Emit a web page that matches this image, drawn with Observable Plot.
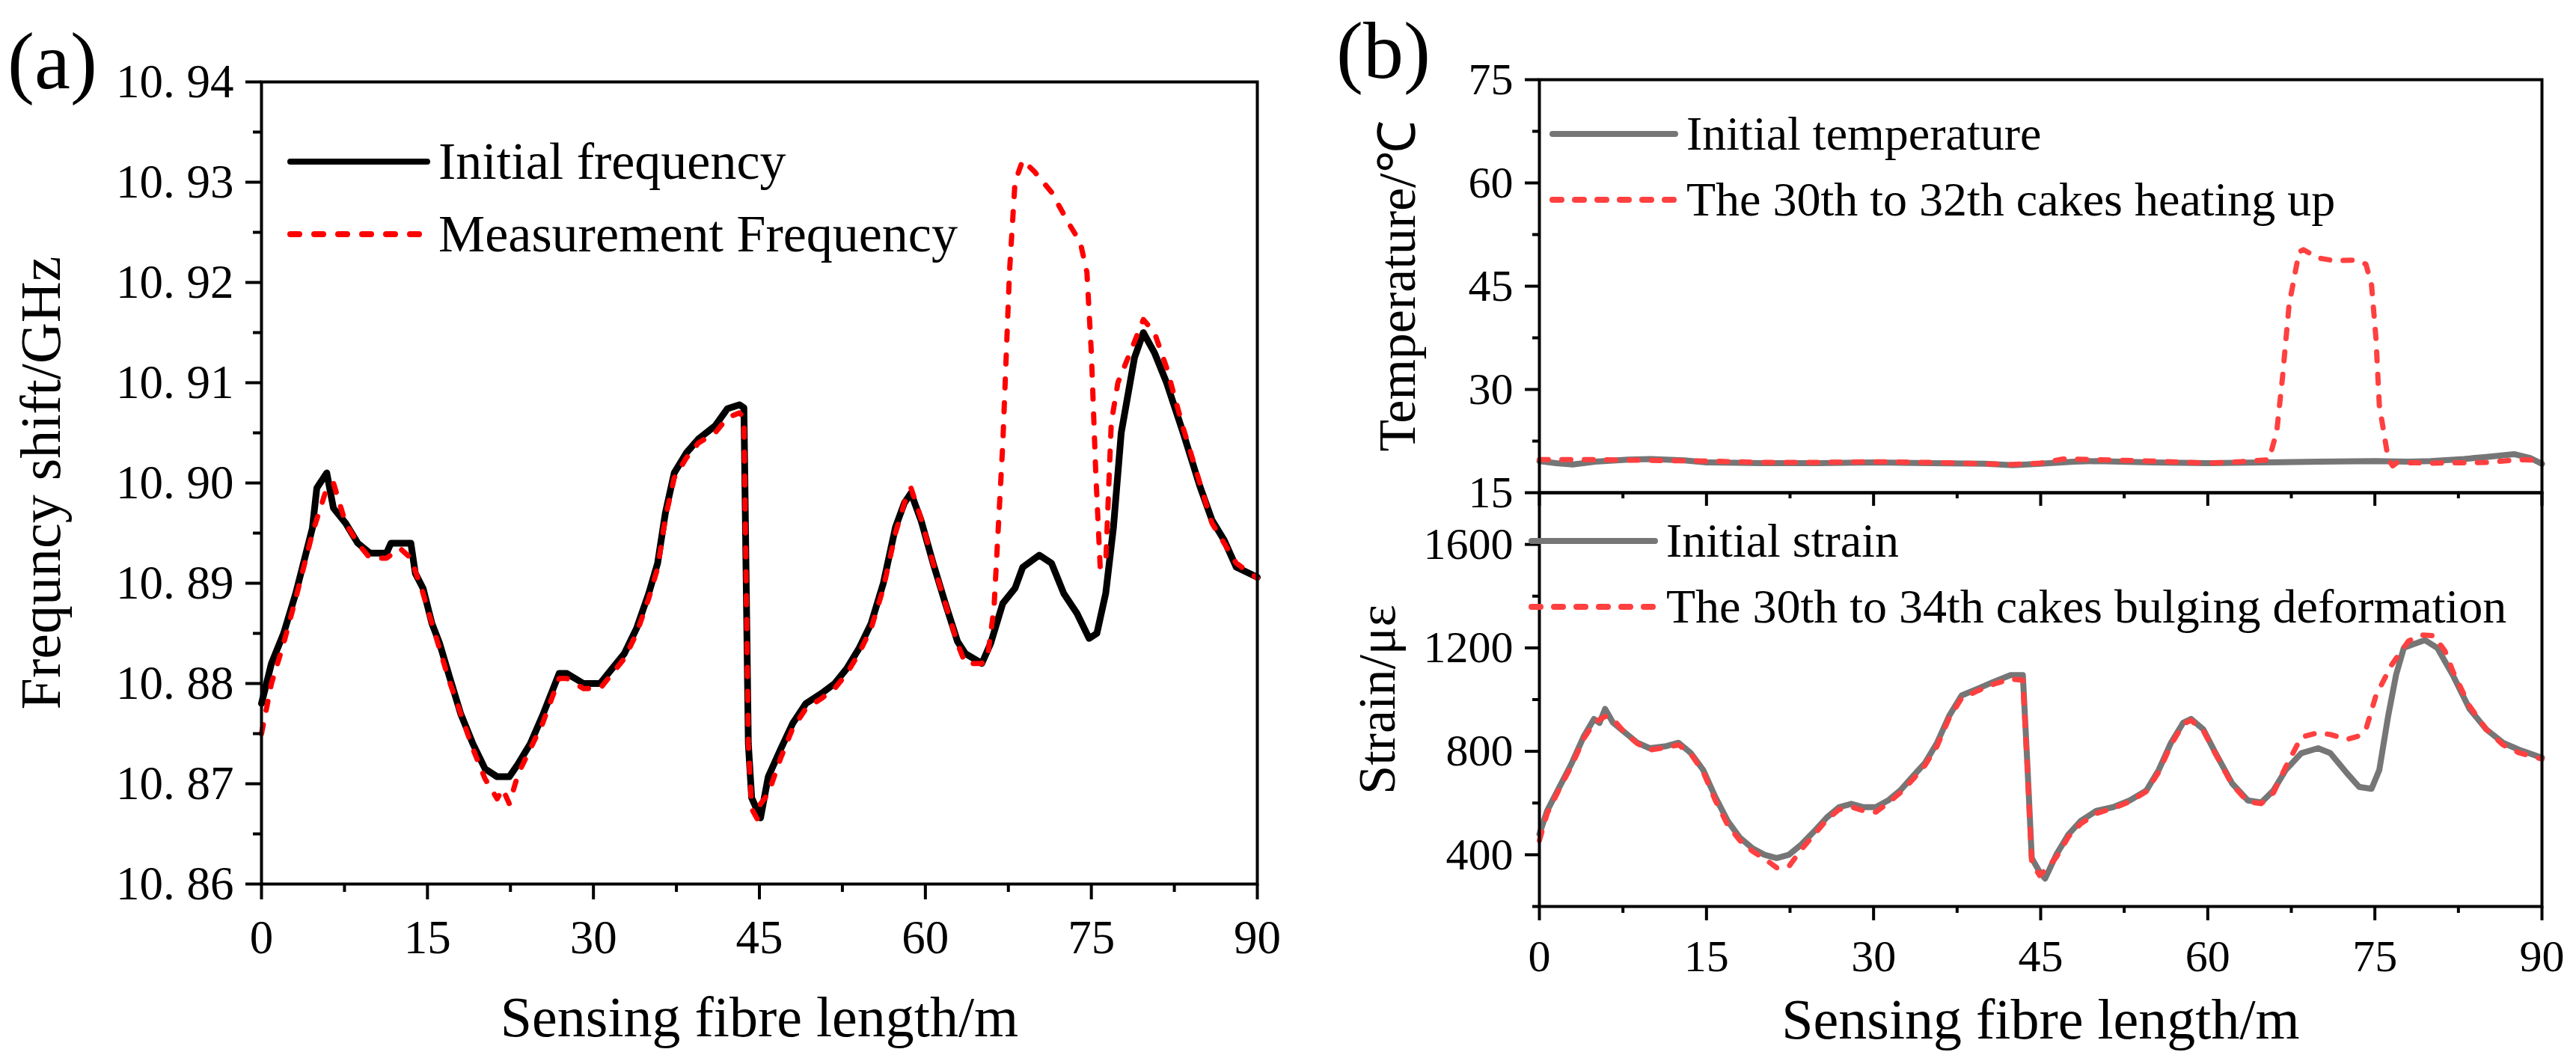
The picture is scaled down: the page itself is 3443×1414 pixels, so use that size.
<!DOCTYPE html>
<html>
<head>
<meta charset="utf-8">
<script src="https://cdn.jsdelivr.net/npm/d3@7"></script>
<script src="https://cdn.jsdelivr.net/npm/@observablehq/plot@0.6"></script>
<style>
  body { margin: 0; background: white; }
  #fig { position: relative; width: 3443px; height: 1414px; background: white; }
  #fig svg { position: absolute; }
</style>
</head>
<body>
<div id="fig"></div>
<script>
// (a) frequency shift, GHz, against sensing fibre length (m)
const freqInitial = [
  [0,10.878],[0.9,10.882],[2,10.885],[3.1,10.889],[4.6,10.8955],[5,10.8995],[5.9,10.901],
  [6.5,10.8975],[7.6,10.896],[8.7,10.894],[9.8,10.893],[11.3,10.893],[11.7,10.894],[13.5,10.894],
  [13.9,10.891],[14.6,10.8895],[15.4,10.886],[16.1,10.884],[16.9,10.881],[18,10.877],[19.1,10.874],
  [20.2,10.8715],[21.3,10.8707],[22.4,10.8707],[23.2,10.872],[24.3,10.874],[25.4,10.8768],
  [26.9,10.881],[27.6,10.881],[29.1,10.880],[30.6,10.880],[31.7,10.8815],[32.8,10.883],
  [33.9,10.8855],[35,10.889],[35.8,10.892],[36.5,10.897],[37.3,10.901],[38.4,10.903],
  [39.5,10.9044],[41,10.9057],[42.1,10.9074],[43.2,10.9078],[43.6,10.9075],[44,10.874],
  [44.3,10.8686],[45.1,10.8666],[45.8,10.8707],[46.9,10.8734],[48,10.876],[49.2,10.878],
  [50.6,10.879],[51.8,10.880],[52.9,10.8815],[54,10.8835],[55.1,10.886],[56.2,10.890],
  [57.3,10.8956],[58.1,10.898],[58.7,10.899],[59.6,10.8963],[60.7,10.892],[61.8,10.888],
  [62.9,10.8842],[63.6,10.883],[65.1,10.882],[65.9,10.884],[67,10.888],[68.1,10.8895],
  [68.8,10.8916],[70.3,10.8928],[71.4,10.892],[72.5,10.889],[73.7,10.887],[74.8,10.8845],
  [75.5,10.885],[76.3,10.889],[77,10.8956],[77.7,10.905],[78.9,10.9125],[79.7,10.915],
  [80.7,10.913],[81.8,10.910],[83.3,10.905],[84.8,10.8997],[85.9,10.8963],[87,10.8943],
  [88.1,10.8916],[90,10.8906]
];
const freqMeasured = [
  [0,10.875],[0.9,10.880],[2,10.884],[3.1,10.8885],[4.6,10.895],[5.9,10.8995],[6.5,10.900],
  [7.6,10.896],[8.7,10.894],[9.8,10.8925],[11.3,10.8925],[12.5,10.8935],[13.5,10.8925],
  [14.6,10.889],[15.4,10.886],[16.9,10.8805],[18,10.877],[19.1,10.8735],[20.2,10.8705],
  [21.3,10.8685],[21.8,10.8695],[22.4,10.868],[23.2,10.871],[24.3,10.8735],[25.4,10.876],
  [26.9,10.8805],[27.6,10.8805],[29.1,10.8795],[30.6,10.8795],[31.7,10.881],[32.8,10.8825],
  [33.9,10.885],[35,10.8885],[35.8,10.8915],[36.5,10.8965],[37.3,10.9005],[38.4,10.9025],
  [39.5,10.904],[41,10.905],[42.1,10.9065],[43.2,10.907],[43.6,10.9065],[44,10.874],
  [44.3,10.8675],[44.8,10.8665],[45.1,10.868],[45.8,10.869],[46.9,10.8725],[48,10.8755],
  [49.2,10.8775],[50.6,10.8785],[51.8,10.8795],[52.9,10.881],[54,10.883],[55.1,10.8855],
  [56.2,10.8895],[57.3,10.895],[58.1,10.898],[58.7,10.8995],[59.6,10.8965],[60.7,10.892],
  [61.8,10.888],[62.9,10.884],[63.6,10.882],[65.1,10.882],[65.6,10.8825],[66.2,10.8875],
  [67,10.904],[67.6,10.921],[68.1,10.930],[68.8,10.9322],[69.9,10.931],[71.4,10.929],
  [72.9,10.926],[74,10.924],[74.6,10.921],[75,10.913],[75.4,10.901],[75.8,10.8916],
  [76.3,10.892],[76.8,10.906],[77.4,10.910],[78.5,10.913],[79.7,10.9163],[80.7,10.915],
  [81.8,10.9115],[83.3,10.9055],[84.8,10.900],[85.9,10.896],[87,10.894],[88.1,10.892],[90,10.8905]
];

// (b) top: temperature, degrees C
const tempInitial = [
  [0,19.6],[1.5,19.3],[3,19.1],[5,19.5],[8,19.8],[10,19.9],[13,19.7],[15,19.4],[20,19.3],
  [25,19.3],[30,19.4],[35,19.3],[40,19.2],[42.5,19.0],[45,19.2],[48,19.5],[50,19.6],[55,19.4],
  [60,19.3],[65,19.4],[70,19.5],[75,19.6],[78,19.5],[80,19.6],[83,19.9],[85,20.2],[87.5,20.6],
  [89,20.0],[90,19.2]
];
const tempHeated = [
  [0,19.8],[5,19.8],[10,19.7],[15,19.6],[20,19.4],[25,19.4],[30,19.5],[35,19.4],[40,19.2],
  [42.5,19.1],[45,19.3],[47,19.9],[50,19.8],[55,19.6],[60,19.3],[63,19.5],[65.5,19.8],[66.2,24],
  [66.7,31.6],[67.3,42.3],[68.2,50.0],[68.6,50.3],[69.9,49.1],[71.4,48.7],[73.2,48.8],[74.2,48.2],
  [74.7,45.2],[75.1,37.4],[75.4,27.7],[76.2,19.9],[76.6,18.9],[77,19.4],[80,19.3],[85,19.4],
  [88,19.8],[90,19.7]
];

// (b) bottom: strain, microstrain
const strainInitial = [
  [0,480],[0.7,570],[1.8,662],[2.9,754],[4,859],[4.9,925],[5.4,910],[5.9,964],[6.6,911],
  [7.7,872],[8.8,833],[9.9,812],[11.4,820],[12.5,833],[13.6,793],[14.7,728],[15.8,623],
  [16.9,531],[18,466],[19.1,426],[20.2,400],[21.3,387],[22.4,400],[23.5,439],[24.7,492],
  [25.8,544],[26.9,584],[28,597],[29.1,584],[30.2,584],[31.3,610],[32.4,649],[33.5,702],
  [34.6,754],[35.7,833],[36.8,938],[37.9,1016],[39.4,1043],[40.8,1069],[42.3,1095],[43.4,1095],
  [43.8,754],[44.2,387],[44.9,334],[45.4,308],[46.4,400],[47.5,479],[48.6,531],[50,570],
  [51.5,584],[53,610],[54.5,649],[55.6,728],[56.7,833],[57.8,911],[58.5,925],[59.6,885],
  [60.7,793],[62.2,675],[63.6,610],[64.8,602],[65.9,649],[67,728],[68.4,793],[69.9,812],
  [71,793],[72.5,715],[73.6,662],[74.7,655],[75.4,728],[76.2,938],[76.9,1095],[77.6,1200],
  [78.5,1215],[79.5,1230],[80.6,1200],[82,1095],[83.5,964],[85,885],[86.5,833],[87.9,807],[90,775]
];
const strainBulged = [
  [0,455],[0.7,560],[1.8,655],[2.9,745],[4,850],[4.9,910],[5.9,935],[6.6,925],[7.7,870],
  [8.8,830],[9.9,805],[11.4,815],[12.5,825],[13.6,790],[14.7,720],[15.8,610],[16.9,515],
  [18,455],[19.1,415],[20.2,385],[21.3,350],[22.4,355],[23.5,420],[24.7,480],[25.8,535],
  [26.9,575],[28,585],[29.1,570],[30.2,565],[31.3,600],[32.4,640],[33.5,690],[34.6,745],
  [35.7,820],[36.8,930],[37.9,1005],[39.4,1035],[40.8,1060],[42.3,1080],[43.4,1075],[43.8,740],
  [44.2,370],[44.9,320],[45.4,340],[46.4,390],[47.5,470],[48.6,520],[50,560],[51.5,580],
  [53,605],[54.5,645],[55.6,720],[56.7,825],[57.8,905],[58.5,920],[59.6,880],[60.7,790],
  [62.2,670],[63.6,605],[64.8,598],[65.9,640],[67,740],[68.4,855],[69.9,872],[71,865],
  [72.5,846],[73.6,860],[74.2,885],[75.1,1016],[76.5,1134],[78,1226],[79.2,1250],[80.3,1247],
  [81.3,1187],[82,1110],[83.5,975],[85,885],[86.5,825],[87.9,795],[90,770]
];

// ticks
const xMajor = [0, 15, 30, 45, 60, 75, 90];
const xMinor = [7.5, 22.5, 37.5, 52.5, 67.5, 82.5];
const freqMajor = [10.86, 10.87, 10.88, 10.89, 10.90, 10.91, 10.92, 10.93, 10.94];
const freqMinor = [10.865, 10.875, 10.885, 10.895, 10.905, 10.915, 10.925, 10.935];
const tempMajor = [15, 30, 45, 60, 75];
const tempMinor = [22.5, 37.5, 52.5, 67.5];
const strainMajor = [400, 800, 1200, 1600];
const strainMinor = [200, 600, 1000, 1400];

const FONT = '"Liberation Serif", "Times New Roman", serif';
const RED_A = "#ff0000";
const RED_B = "#ff4040";
const GREY = "#767676";

const toRows = arr => arr.map(([x, y]) => ({x, y}));
const blank = () => "";
const plain = d => String(d);

const fig = document.getElementById("fig");

function place(svg, left, top) {
  svg.style.left = left + "px";
  svg.style.top = top + "px";
  fig.appendChild(svg);
}

// ---- panel (a)
const plotA = Plot.plot({
  width: 1720,
  height: 1414,
  marginLeft: 349,
  marginRight: 40,
  marginTop: 109,
  marginBottom: 233,
  style: {background: "transparent", fontFamily: FONT, fontSize: "63px", color: "black", overflow: "visible"},
  x: {domain: [0, 90]},
  y: {domain: [10.86, 10.94]},
  marks: [
    Plot.line(toRows(freqInitial), {x: "x", y: "y", stroke: "black", strokeWidth: 9, strokeLinejoin: "round"}),
    Plot.line(toRows(freqMeasured), {x: "x", y: "y", stroke: RED_A, strokeWidth: 7,
      strokeDasharray: "12,20", strokeLinecap: "round"}),
    Plot.frame({strokeWidth: 4}),
    Plot.axisX(xMajor, {tickSize: 21, tickPadding: 27, strokeWidth: 4, label: null, tickFormat: plain}),
    Plot.axisX(xMinor, {tickSize: 11, tickFormat: blank, strokeWidth: 4, label: null}),
    Plot.axisY(freqMajor, {tickSize: 21, tickPadding: 16, strokeWidth: 4, label: null,
      tickFormat: d => d.toFixed(2).replace(".", ". ")}),
    Plot.axisY(freqMinor, {tickSize: 11, tickFormat: blank, strokeWidth: 4, label: null}),
    Plot.text(["Sensing fibre length/m"], {frameAnchor: "bottom", dy: 179, lineAnchor: "middle",
      textAnchor: "middle", fontSize: 76}),
    Plot.text(["Frequncy shift/GHz"], {frameAnchor: "left", dx: -294, rotate: -90, lineAnchor: "middle",
      textAnchor: "middle", fontSize: 76})
  ]
});
place(plotA, 0, 0);

// ---- panel (b), temperature
const plotT = Plot.plot({
  width: 1723,
  height: 700,
  marginLeft: 337,
  marginRight: 46,
  marginTop: 106,
  marginBottom: 42,
  style: {background: "transparent", fontFamily: FONT, fontSize: "60px", color: "black", overflow: "visible"},
  x: {domain: [0, 90]},
  y: {domain: [15, 75]},
  marks: [
    Plot.line(toRows(tempInitial), {x: "x", y: "y", stroke: GREY, strokeWidth: 8, strokeLinejoin: "round"}),
    Plot.line(toRows(tempHeated), {x: "x", y: "y", stroke: RED_B, strokeWidth: 7,
      strokeDasharray: "12,18", strokeLinecap: "round"}),
    Plot.frame({strokeWidth: 4}),
    Plot.axisX(xMajor, {tickSize: 18, tickFormat: blank, strokeWidth: 4, label: null}),
    Plot.axisX(xMinor, {tickSize: 8, tickFormat: blank, strokeWidth: 4, label: null}),
    Plot.axisY(tempMajor, {tickSize: 19, tickPadding: 16, strokeWidth: 4, label: null, tickFormat: plain}),
    Plot.axisY(tempMinor, {tickSize: 9, tickFormat: blank, strokeWidth: 4, label: null}),
    Plot.text(["Temperature/℃"], {frameAnchor: "left", dx: -189, rotate: -90, lineAnchor: "middle",
      textAnchor: "middle", fontSize: 70})
  ]
});
place(plotT, 1720, 0);

// ---- panel (b), strain
const plotS = Plot.plot({
  width: 1723,
  height: 774,
  marginLeft: 337,
  marginRight: 46,
  marginTop: 18,
  marginBottom: 203,
  style: {background: "transparent", fontFamily: FONT, fontSize: "60px", color: "black", overflow: "visible"},
  x: {domain: [0, 90]},
  y: {domain: [200, 1800]},
  marks: [
    Plot.line(toRows(strainInitial), {x: "x", y: "y", stroke: GREY, strokeWidth: 8, strokeLinejoin: "round"}),
    Plot.line(toRows(strainBulged), {x: "x", y: "y", stroke: RED_B, strokeWidth: 7,
      strokeDasharray: "12,18", strokeLinecap: "round"}),
    Plot.frame({strokeWidth: 4}),
    Plot.axisX(xMajor, {tickSize: 19, tickPadding: 25, strokeWidth: 4, label: null, tickFormat: plain}),
    Plot.axisX(xMinor, {tickSize: 9, tickFormat: blank, strokeWidth: 4, label: null}),
    Plot.axisY(strainMajor, {tickSize: 19, tickPadding: 16, strokeWidth: 4, label: null, tickFormat: plain}),
    Plot.axisY(strainMinor, {tickSize: 9, tickFormat: blank, strokeWidth: 4, label: null}),
    Plot.text(["Sensing fibre length/m"], {frameAnchor: "bottom", dy: 152, lineAnchor: "middle",
      textAnchor: "middle", fontSize: 76}),
    Plot.text(["Strain/με"], {frameAnchor: "left", dx: -216, rotate: -90, lineAnchor: "middle",
      textAnchor: "middle", fontSize: 70})
  ]
});
place(plotS, 1720, 640);

// ---- legends and panel letters, drawn on top
const over = d3.select(fig).append("svg")
  .attr("width", 3443).attr("height", 1414)
  .style("left", "0px").style("top", "0px")
  .style("font-family", FONT);

const legends = [
  {x1: 388, x2: 571, y: 216, color: "black", dash: null, text: "Initial frequency", size: 70},
  {x1: 388, x2: 571, y: 313, color: RED_A, dash: "12,20", text: "Measurement Frequency", size: 70},
  {x1: 2075, x2: 2239, y: 179, color: GREY, dash: null, text: "Initial temperature", size: 64},
  {x1: 2075, x2: 2239, y: 267, color: RED_B, dash: "12,18", text: "The 30th to 32th cakes heating up", size: 64},
  {x1: 2047, x2: 2212, y: 723, color: GREY, dash: null, text: "Initial strain", size: 64},
  {x1: 2047, x2: 2212, y: 811, color: RED_B, dash: "12,18", text: "The 30th to 34th cakes bulging deformation", size: 64}
];

legends.forEach(l => {
  over.append("line")
    .attr("x1", l.x1).attr("x2", l.x2).attr("y1", l.y).attr("y2", l.y)
    .attr("stroke", l.color).attr("stroke-width", 8)
    .attr("stroke-linecap", "round")
    .attr("stroke-dasharray", l.dash);
  over.append("text")
    .attr("x", l.x2 + 15).attr("y", l.y)
    .attr("dy", "0.33em")
    .attr("font-size", l.size)
    .text(l.text);
});

over.append("text").attr("x", 10).attr("y", 118).attr("font-size", 108).text("(a)");
over.append("text").attr("x", 1786).attr("y", 104).attr("font-size", 108).text("(b)");
</script>
</body>
</html>
